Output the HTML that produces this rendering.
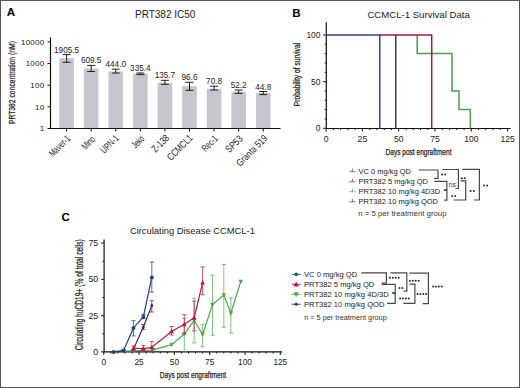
<!DOCTYPE html>
<html><head><meta charset="utf-8"><style>
html,body{margin:0;padding:0;background:#fff;}
body{width:520px;height:388px;overflow:hidden;}
svg{display:block;font-family:"Liberation Sans", sans-serif;}
</style></head><body>
<svg width="520" height="388" viewBox="0 0 520 388">
<rect x="0" y="0" width="520" height="388" fill="#fff"/>
<g>
<rect x="59.30" y="58.20" width="14.6" height="70.30" fill="#c7c6cf"/>
<rect x="83.88" y="68.50" width="14.6" height="60.00" fill="#c7c6cf"/>
<rect x="108.46" y="71.50" width="14.6" height="57.00" fill="#c7c6cf"/>
<rect x="133.04" y="73.50" width="14.6" height="55.00" fill="#c7c6cf"/>
<rect x="157.62" y="82.80" width="14.6" height="45.70" fill="#c7c6cf"/>
<rect x="182.20" y="86.20" width="14.6" height="42.30" fill="#c7c6cf"/>
<rect x="206.78" y="88.80" width="14.6" height="39.70" fill="#c7c6cf"/>
<rect x="231.36" y="91.50" width="14.6" height="37.00" fill="#c7c6cf"/>
<rect x="255.94" y="93.00" width="14.6" height="35.50" fill="#c7c6cf"/>
<path d="M62.60 54.6H70.60M66.60 54.6V62.3M62.60 62.3H70.60" stroke="#222" stroke-width="1" fill="none"/>
<text x="66.60" y="52.60" font-size="8.2" text-anchor="middle" fill="#222">1905.5</text>
<path d="M87.18 65.4H95.18M91.18 65.4V71.5M87.18 71.5H95.18" stroke="#222" stroke-width="1" fill="none"/>
<text x="91.18" y="63.40" font-size="8.2" text-anchor="middle" fill="#222">609.5</text>
<path d="M111.76 69.2H119.76M115.76 69.2V73.0M111.76 73.0H119.76" stroke="#222" stroke-width="1" fill="none"/>
<text x="115.76" y="67.20" font-size="8.2" text-anchor="middle" fill="#222">444.0</text>
<path d="M136.34 73.0H144.34M140.34 73.0V74.6M136.34 74.6H144.34" stroke="#222" stroke-width="1" fill="none"/>
<text x="140.34" y="71.00" font-size="8.2" text-anchor="middle" fill="#222">335.4</text>
<path d="M160.92 80.3H168.92M164.92 80.3V84.3M160.92 84.3H168.92" stroke="#222" stroke-width="1" fill="none"/>
<text x="164.92" y="78.30" font-size="8.2" text-anchor="middle" fill="#222">135.7</text>
<path d="M185.50 82.3H193.50M189.50 82.3V90.3M185.50 90.3H193.50" stroke="#222" stroke-width="1" fill="none"/>
<text x="189.50" y="80.30" font-size="8.2" text-anchor="middle" fill="#222">96.6</text>
<path d="M210.08 86.2H218.08M214.08 86.2V90.0M210.08 90.0H218.08" stroke="#222" stroke-width="1" fill="none"/>
<text x="214.08" y="84.20" font-size="8.2" text-anchor="middle" fill="#222">70.8</text>
<path d="M234.66 90.0H242.66M238.66 90.0V93.4M234.66 93.4H242.66" stroke="#222" stroke-width="1" fill="none"/>
<text x="238.66" y="88.00" font-size="8.2" text-anchor="middle" fill="#222">52.2</text>
<path d="M259.24 91.5H267.24M263.24 91.5V94.6M259.24 94.6H267.24" stroke="#222" stroke-width="1" fill="none"/>
<text x="263.24" y="89.50" font-size="8.2" text-anchor="middle" fill="#222">44.8</text>
<path d="M50.5 37.5V129M50 128.5H280.5" stroke="#111" stroke-width="1.2" fill="none"/>
<path d="M47.5 41.90H50.5" stroke="#111" stroke-width="1"/>
<text x="44.3" y="44.80" font-size="8" text-anchor="end" fill="#222" letter-spacing="0.2">10000</text>
<path d="M47.5 63.55H50.5" stroke="#111" stroke-width="1"/>
<text x="44.3" y="66.45" font-size="8" text-anchor="end" fill="#222" letter-spacing="0.2">1000</text>
<path d="M47.5 85.20H50.5" stroke="#111" stroke-width="1"/>
<text x="44.3" y="88.10" font-size="8" text-anchor="end" fill="#222" letter-spacing="0.2">100</text>
<path d="M47.5 106.85H50.5" stroke="#111" stroke-width="1"/>
<text x="44.3" y="109.75" font-size="8" text-anchor="end" fill="#222" letter-spacing="0.2">10</text>
<path d="M47.5 128.50H50.5" stroke="#111" stroke-width="1"/>
<text x="44.3" y="131.40" font-size="8" text-anchor="end" fill="#222" letter-spacing="0.2">1</text>
<path d="M66.60 128.5V131.5" stroke="#111" stroke-width="1"/>
<text transform="translate(70.98,139.28) rotate(-45)" font-size="10" text-anchor="end" fill="#222" textLength="25.40" lengthAdjust="spacingAndGlyphs">Maver-1</text>
<path d="M91.18 128.5V131.5" stroke="#111" stroke-width="1"/>
<text transform="translate(95.84,139.96) rotate(-45)" font-size="10" text-anchor="end" fill="#222" textLength="14.71" lengthAdjust="spacingAndGlyphs">Mino</text>
<path d="M115.76 128.5V131.5" stroke="#111" stroke-width="1"/>
<text transform="translate(119.58,138.84) rotate(-45)" font-size="10" text-anchor="end" fill="#222" textLength="21.61" lengthAdjust="spacingAndGlyphs">UPN-1</text>
<path d="M140.34 128.5V131.5" stroke="#111" stroke-width="1"/>
<text transform="translate(145.00,139.46) rotate(-45)" font-size="10" text-anchor="end" fill="#222" textLength="13.58" lengthAdjust="spacingAndGlyphs">Jeko</text>
<path d="M164.92 128.5V131.5" stroke="#111" stroke-width="1"/>
<text transform="translate(169.86,138.72) rotate(-45)" font-size="10" text-anchor="end" fill="#222" textLength="20.28" lengthAdjust="spacingAndGlyphs">Z-138</text>
<path d="M189.50 128.5V131.5" stroke="#111" stroke-width="1"/>
<text transform="translate(193.18,138.78) rotate(-45)" font-size="10" text-anchor="end" fill="#222" textLength="31.34" lengthAdjust="spacingAndGlyphs">CCMCL1</text>
<path d="M214.08 128.5V131.5" stroke="#111" stroke-width="1"/>
<text transform="translate(218.46,139.22) rotate(-45)" font-size="10" text-anchor="end" fill="#222" textLength="18.33" lengthAdjust="spacingAndGlyphs">Rec-1</text>
<path d="M238.66 128.5V131.5" stroke="#111" stroke-width="1"/>
<text transform="translate(243.46,139.22) rotate(-45)" font-size="10" text-anchor="end" fill="#222" textLength="19.94" lengthAdjust="spacingAndGlyphs">SP53</text>
<path d="M263.24 128.5V131.5" stroke="#111" stroke-width="1"/>
<text transform="translate(268.18,138.98) rotate(-45)" font-size="10" text-anchor="end" fill="#222" textLength="39.57" lengthAdjust="spacingAndGlyphs">Granta 519</text>
<text transform="translate(15.2,82.6) rotate(-90)" font-size="9.5" text-anchor="middle" fill="#222" stroke="#222" stroke-width="0.25" textLength="83" lengthAdjust="spacingAndGlyphs">PRT382 concentration (nM)</text>
<text x="165.2" y="17.8" font-size="10" text-anchor="middle" fill="#222">PRT382 IC50</text>
<text x="6.8" y="16.3" font-size="11.6" font-weight="bold" fill="#000">A</text>
</g>
<g>
<path d="M326.3 22.3V129M325.8 128.5H510.5" stroke="#111" stroke-width="1.2" fill="none"/>
<path d="M323.2 128.30H326.3" stroke="#111" stroke-width="1"/>
<path d="M324.7 118.97H326.3" stroke="#111" stroke-width="1"/>
<path d="M324.7 109.64H326.3" stroke="#111" stroke-width="1"/>
<path d="M324.7 100.31H326.3" stroke="#111" stroke-width="1"/>
<path d="M324.7 90.98H326.3" stroke="#111" stroke-width="1"/>
<path d="M323.2 81.65H326.3" stroke="#111" stroke-width="1"/>
<path d="M324.7 72.32H326.3" stroke="#111" stroke-width="1"/>
<path d="M324.7 62.99H326.3" stroke="#111" stroke-width="1"/>
<path d="M324.7 53.66H326.3" stroke="#111" stroke-width="1"/>
<path d="M324.7 44.33H326.3" stroke="#111" stroke-width="1"/>
<path d="M323.2 35.00H326.3" stroke="#111" stroke-width="1"/>
<text x="320.4" y="38.00" font-size="8.4" text-anchor="end" fill="#222">100</text>
<text x="320.4" y="84.65" font-size="8.4" text-anchor="end" fill="#222">50</text>
<text x="320.4" y="131.30" font-size="8.4" text-anchor="end" fill="#222">0</text>
<path d="M326.10 128.5V131.5" stroke="#111" stroke-width="1"/>
<path d="M333.36 128.5V130.1" stroke="#111" stroke-width="1"/>
<path d="M340.62 128.5V130.1" stroke="#111" stroke-width="1"/>
<path d="M347.88 128.5V130.1" stroke="#111" stroke-width="1"/>
<path d="M355.14 128.5V130.1" stroke="#111" stroke-width="1"/>
<path d="M362.40 128.5V131.5" stroke="#111" stroke-width="1"/>
<path d="M369.66 128.5V130.1" stroke="#111" stroke-width="1"/>
<path d="M376.92 128.5V130.1" stroke="#111" stroke-width="1"/>
<path d="M384.18 128.5V130.1" stroke="#111" stroke-width="1"/>
<path d="M391.44 128.5V130.1" stroke="#111" stroke-width="1"/>
<path d="M398.70 128.5V131.5" stroke="#111" stroke-width="1"/>
<path d="M405.96 128.5V130.1" stroke="#111" stroke-width="1"/>
<path d="M413.22 128.5V130.1" stroke="#111" stroke-width="1"/>
<path d="M420.48 128.5V130.1" stroke="#111" stroke-width="1"/>
<path d="M427.74 128.5V130.1" stroke="#111" stroke-width="1"/>
<path d="M435.00 128.5V131.5" stroke="#111" stroke-width="1"/>
<path d="M442.26 128.5V130.1" stroke="#111" stroke-width="1"/>
<path d="M449.52 128.5V130.1" stroke="#111" stroke-width="1"/>
<path d="M456.78 128.5V130.1" stroke="#111" stroke-width="1"/>
<path d="M464.04 128.5V130.1" stroke="#111" stroke-width="1"/>
<path d="M471.30 128.5V131.5" stroke="#111" stroke-width="1"/>
<path d="M478.56 128.5V130.1" stroke="#111" stroke-width="1"/>
<path d="M485.82 128.5V130.1" stroke="#111" stroke-width="1"/>
<path d="M493.08 128.5V130.1" stroke="#111" stroke-width="1"/>
<path d="M500.34 128.5V130.1" stroke="#111" stroke-width="1"/>
<path d="M507.60 128.5V131.5" stroke="#111" stroke-width="1"/>
<text x="326.10" y="141.9" font-size="8.6" text-anchor="middle" fill="#222">0</text>
<text x="362.40" y="141.9" font-size="8.6" text-anchor="middle" fill="#222">25</text>
<text x="398.70" y="141.9" font-size="8.6" text-anchor="middle" fill="#222">50</text>
<text x="435.00" y="141.9" font-size="8.6" text-anchor="middle" fill="#222">75</text>
<text x="471.30" y="141.9" font-size="8.6" text-anchor="middle" fill="#222">100</text>
<text x="507.60" y="141.9" font-size="8.6" text-anchor="middle" fill="#222">125</text>
<text x="418.5" y="155.2" font-size="9.3" text-anchor="middle" fill="#222" stroke="#222" stroke-width="0.25" textLength="66" lengthAdjust="spacingAndGlyphs">Days post engraftment</text>
<text transform="translate(300.4,74.5) rotate(-90)" font-size="9.3" text-anchor="middle" fill="#222" stroke="#222" stroke-width="0.25" textLength="63.3" lengthAdjust="spacingAndGlyphs">Probability of survival</text>
<path d="M417.2 35.00V53.6H452V91H459V109.6H470.3V128.5" stroke="#4c9e4c" stroke-width="1.5" fill="none"/>
<path d="M395.8 35.00V128.5" stroke="#4a3358" stroke-width="1.5" fill="none"/>
<path d="M379.8 35.00H431.7V128.5" stroke="#a01a42" stroke-width="1.5" fill="none"/>
<path d="M326.10 35.00H379.8V128.5" stroke="#354678" stroke-width="1.5" fill="none"/>
<text x="418.6" y="17.6" font-size="9.6" text-anchor="middle" fill="#222">CCMCL-1 Survival Data</text>
<text x="292.2" y="16.6" font-size="11.6" font-weight="bold" fill="#000">B</text>
<path d="M349.3 171.7H355.5M352.4 171.7V168.7" stroke="#354678" stroke-width="1.1" stroke-opacity="0.7" fill="none"/>
<text x="358.5" y="173.5" font-size="7.5" fill="#222">VC 0 mg/kg QD</text>
<path d="M349.3 181.7H355.5M352.4 181.7V178.7" stroke="#a01a42" stroke-width="1.1" stroke-opacity="0.7" fill="none"/>
<text x="358.5" y="183.5" font-size="7.5" fill="#222">PRT382 5 mg/kg QD</text>
<path d="M349.3 191.7H355.5M352.4 191.7V188.7" stroke="#4c9e4c" stroke-width="1.1" stroke-opacity="0.7" fill="none"/>
<text x="358.5" y="193.5" font-size="7.5" fill="#222">PRT382 10 mg/kg 4D3D</text>
<path d="M349.3 201.7H355.5M352.4 201.7V198.7" stroke="#4a3358" stroke-width="1.1" stroke-opacity="0.7" fill="none"/>
<text x="358.5" y="203.5" font-size="7.5" fill="#222">PRT382 10 mg/kg QOD</text>
<text x="358.3" y="216.1" font-size="7.8" fill="#333">n = 5 per treatment group</text>
<path d="M418.8 170 L438 170 L438 178.3 L434.2 178.3" stroke="#484848" stroke-width="1.2" fill="none"/>
<path d="M434.2 181.4 L446.9 181.4 L446.9 200.1 L444 200.1" stroke="#484848" stroke-width="1.2" fill="none"/>
<path d="M443.8 190 L446.9 190" stroke="#484848" stroke-width="1.8" fill="none"/>
<path d="M442.2 169.5 L458.4 169.5 L458.4 188.5 L455.5 188.5" stroke="#484848" stroke-width="1.2" fill="none"/>
<path d="M460.6 180.9 L465.7 180.9 L465.7 200 L453.6 200" stroke="#484848" stroke-width="1.2" fill="none"/>
<path d="M462.4 169.3 L479.4 169.3 L479.4 200 L473.9 200" stroke="#484848" stroke-width="1.2" fill="none"/>
<circle cx="442.10" cy="174.50" r="1.0" fill="#2a2a2a"/>
<circle cx="445.20" cy="174.50" r="1.0" fill="#2a2a2a"/>
<text x="448.8" y="187" font-size="6.8" fill="#333">ns</text>
<circle cx="452.20" cy="196.00" r="1.0" fill="#2a2a2a"/>
<circle cx="455.30" cy="196.00" r="1.0" fill="#2a2a2a"/>
<circle cx="461.80" cy="178.30" r="1.0" fill="#2a2a2a"/>
<circle cx="464.90" cy="178.30" r="1.0" fill="#2a2a2a"/>
<circle cx="470.70" cy="191.10" r="1.0" fill="#2a2a2a"/>
<circle cx="473.80" cy="191.10" r="1.0" fill="#2a2a2a"/>
<circle cx="484.00" cy="185.40" r="1.0" fill="#2a2a2a"/>
<circle cx="487.10" cy="185.40" r="1.0" fill="#2a2a2a"/>
</g>
<g>
<path d="M104.1 239.6V352.5M103.6 351.9H282" stroke="#111" stroke-width="1.2" fill="none"/>
<path d="M101.10 351.90H104.1" stroke="#111" stroke-width="1"/>
<path d="M102.50 333.76H104.1" stroke="#111" stroke-width="1"/>
<path d="M101.10 315.62H104.1" stroke="#111" stroke-width="1"/>
<path d="M102.50 297.49H104.1" stroke="#111" stroke-width="1"/>
<path d="M101.10 279.35H104.1" stroke="#111" stroke-width="1"/>
<path d="M102.50 261.21H104.1" stroke="#111" stroke-width="1"/>
<path d="M101.10 243.07H104.1" stroke="#111" stroke-width="1"/>
<text x="98.2" y="355.00" font-size="8.8" text-anchor="end" fill="#222">0</text>
<text x="98.2" y="318.73" font-size="8.8" text-anchor="end" fill="#222">25</text>
<text x="98.2" y="282.45" font-size="8.8" text-anchor="end" fill="#222">50</text>
<text x="98.2" y="246.17" font-size="8.8" text-anchor="end" fill="#222">75</text>
<path d="M103.80 351.9V354.9" stroke="#111" stroke-width="1"/>
<path d="M110.86 351.9V353.5" stroke="#111" stroke-width="1"/>
<path d="M117.92 351.9V353.5" stroke="#111" stroke-width="1"/>
<path d="M124.98 351.9V353.5" stroke="#111" stroke-width="1"/>
<path d="M132.04 351.9V353.5" stroke="#111" stroke-width="1"/>
<path d="M139.10 351.9V354.9" stroke="#111" stroke-width="1"/>
<path d="M146.16 351.9V353.5" stroke="#111" stroke-width="1"/>
<path d="M153.22 351.9V353.5" stroke="#111" stroke-width="1"/>
<path d="M160.28 351.9V353.5" stroke="#111" stroke-width="1"/>
<path d="M167.34 351.9V353.5" stroke="#111" stroke-width="1"/>
<path d="M174.40 351.9V354.9" stroke="#111" stroke-width="1"/>
<path d="M181.46 351.9V353.5" stroke="#111" stroke-width="1"/>
<path d="M188.52 351.9V353.5" stroke="#111" stroke-width="1"/>
<path d="M195.58 351.9V353.5" stroke="#111" stroke-width="1"/>
<path d="M202.64 351.9V353.5" stroke="#111" stroke-width="1"/>
<path d="M209.70 351.9V354.9" stroke="#111" stroke-width="1"/>
<path d="M216.76 351.9V353.5" stroke="#111" stroke-width="1"/>
<path d="M223.82 351.9V353.5" stroke="#111" stroke-width="1"/>
<path d="M230.88 351.9V353.5" stroke="#111" stroke-width="1"/>
<path d="M237.94 351.9V353.5" stroke="#111" stroke-width="1"/>
<path d="M245.00 351.9V354.9" stroke="#111" stroke-width="1"/>
<path d="M252.06 351.9V353.5" stroke="#111" stroke-width="1"/>
<path d="M259.12 351.9V353.5" stroke="#111" stroke-width="1"/>
<path d="M266.18 351.9V353.5" stroke="#111" stroke-width="1"/>
<path d="M273.24 351.9V353.5" stroke="#111" stroke-width="1"/>
<path d="M280.30 351.9V354.9" stroke="#111" stroke-width="1"/>
<text x="103.80" y="365" font-size="8.3" text-anchor="middle" fill="#222">0</text>
<text x="139.10" y="365" font-size="8.3" text-anchor="middle" fill="#222">25</text>
<text x="174.40" y="365" font-size="8.3" text-anchor="middle" fill="#222">50</text>
<text x="209.70" y="365" font-size="8.3" text-anchor="middle" fill="#222">75</text>
<text x="245.00" y="365" font-size="8.3" text-anchor="middle" fill="#222">100</text>
<text x="280.30" y="365" font-size="8.3" text-anchor="middle" fill="#222">125</text>
<text x="193" y="378.3" font-size="9.5" text-anchor="middle" fill="#222" stroke="#222" stroke-width="0.25" textLength="66.3" lengthAdjust="spacingAndGlyphs">Days post engraftment</text>
<text transform="translate(82.6,294.8) rotate(-90)" font-size="10" text-anchor="middle" fill="#222" stroke="#222" stroke-width="0.25" textLength="111" lengthAdjust="spacingAndGlyphs">Circulating huCD19+ (% of total cells)</text>
<text x="192.4" y="234.4" font-size="9.4" text-anchor="middle" fill="#222">Circulating Disease CCMCL-1</text>
<text x="61.4" y="221.4" font-size="11.6" font-weight="bold" fill="#000">C</text>
<polyline points="123.57,351.03 133.45,350.74 143.34,350.45 153.22,349.87 171.58,344.64 184.28,334.05 194.17,320.56 202.64,334.49 212.52,304.60 223.82,295.02 230.88,313.16 240.76,281.53" stroke="#4fa84f" stroke-width="1.2" fill="none"/>
<path d="M182.08 318.53H186.48M184.28 318.53V351.90M182.08 351.90H186.48" stroke="#4fa84f" stroke-width="0.9" stroke-opacity="0.8" fill="none"/>
<path d="M191.97 298.21H196.37M194.17 298.21V342.90M191.97 342.90H196.37" stroke="#4fa84f" stroke-width="0.9" stroke-opacity="0.8" fill="none"/>
<path d="M200.44 324.33H204.84M202.64 324.33V346.82M200.44 346.82H204.84" stroke="#4fa84f" stroke-width="0.9" stroke-opacity="0.8" fill="none"/>
<path d="M210.32 275.29H214.72M212.52 275.29V335.21M210.32 335.21H214.72" stroke="#4fa84f" stroke-width="0.9" stroke-opacity="0.8" fill="none"/>
<path d="M221.62 264.55H226.02M223.82 264.55V327.23M221.62 327.23H226.02" stroke="#4fa84f" stroke-width="0.9" stroke-opacity="0.8" fill="none"/>
<path d="M228.68 297.78H233.08M230.88 297.78V333.04M228.68 333.04H233.08" stroke="#4fa84f" stroke-width="0.9" stroke-opacity="0.8" fill="none"/>
<path d="M123.57 353.63L125.87 349.19H121.27Z" fill="#4fa84f"/>
<path d="M133.45 353.34L135.75 348.90H131.15Z" fill="#4fa84f"/>
<path d="M143.34 353.05L145.64 348.61H141.04Z" fill="#4fa84f"/>
<path d="M153.22 352.47L155.52 348.03H150.92Z" fill="#4fa84f"/>
<path d="M171.58 347.25L173.88 342.81H169.28Z" fill="#4fa84f"/>
<path d="M184.28 336.65L186.58 332.21H181.98Z" fill="#4fa84f"/>
<path d="M194.17 323.16L196.47 318.72H191.87Z" fill="#4fa84f"/>
<path d="M202.64 337.09L204.94 332.65H200.34Z" fill="#4fa84f"/>
<path d="M212.52 307.20L214.82 302.76H210.22Z" fill="#4fa84f"/>
<path d="M223.82 297.62L226.12 293.18H221.52Z" fill="#4fa84f"/>
<path d="M230.88 315.76L233.18 311.32H228.58Z" fill="#4fa84f"/>
<path d="M240.76 284.13L243.06 279.69H238.46Z" fill="#4fa84f"/>
<polyline points="133.45,349.29 143.34,327.09 151.81,305.61" stroke="#4b1f63" stroke-width="1.2" fill="none"/>
<path d="M141.14 324.48H145.54M143.34 324.48V329.41M141.14 329.41H145.54" stroke="#4b1f63" stroke-width="0.9" stroke-opacity="0.8" fill="none"/>
<path d="M149.61 300.68H154.01M151.81 300.68V312.00M149.61 312.00H154.01" stroke="#4b1f63" stroke-width="0.9" stroke-opacity="0.8" fill="none"/>
<path d="M133.45 347.19L135.13 349.29L133.45 351.39L131.77 349.29Z" fill="#4b1f63"/>
<path d="M143.34 324.99L145.02 327.09L143.34 329.19L141.66 327.09Z" fill="#4b1f63"/>
<path d="M151.81 303.51L153.49 305.61L151.81 307.71L150.13 305.61Z" fill="#4b1f63"/>
<polyline points="133.45,348.27 143.34,348.71 151.81,347.26 171.58,331.44 184.28,324.33 194.17,317.66 202.64,282.69" stroke="#b5173d" stroke-width="1.2" fill="none"/>
<path d="M131.25 346.10H135.65M133.45 346.10V350.45M131.25 350.45H135.65" stroke="#b5173d" stroke-width="0.9" stroke-opacity="0.8" fill="none"/>
<path d="M141.14 345.37H145.54M143.34 345.37V351.46M141.14 351.46H145.54" stroke="#b5173d" stroke-width="0.9" stroke-opacity="0.8" fill="none"/>
<path d="M149.61 341.45H154.01M151.81 341.45V351.90M149.61 351.90H154.01" stroke="#b5173d" stroke-width="0.9" stroke-opacity="0.8" fill="none"/>
<path d="M169.38 326.51H173.78M171.58 326.51V335.07M169.38 335.07H173.78" stroke="#b5173d" stroke-width="0.9" stroke-opacity="0.8" fill="none"/>
<path d="M182.08 314.61H186.48M184.28 314.61V334.05M182.08 334.05H186.48" stroke="#b5173d" stroke-width="0.9" stroke-opacity="0.8" fill="none"/>
<path d="M191.97 301.11H196.37M194.17 301.11V330.86M191.97 330.86H196.37" stroke="#b5173d" stroke-width="0.9" stroke-opacity="0.8" fill="none"/>
<path d="M200.44 266.87H204.84M202.64 266.87V294.73M200.44 294.73H204.84" stroke="#b5173d" stroke-width="0.9" stroke-opacity="0.8" fill="none"/>
<path d="M133.45 345.67L135.75 350.11H131.15Z" fill="#b5173d"/>
<path d="M143.34 346.11L145.64 350.55H141.04Z" fill="#b5173d"/>
<path d="M151.81 344.66L154.11 349.10H149.51Z" fill="#b5173d"/>
<path d="M171.58 328.84L173.88 333.28H169.28Z" fill="#b5173d"/>
<path d="M184.28 321.73L186.58 326.17H181.98Z" fill="#b5173d"/>
<path d="M194.17 315.06L196.47 319.50H191.87Z" fill="#b5173d"/>
<path d="M202.64 280.09L204.94 284.53H200.34Z" fill="#b5173d"/>
<polyline points="113.68,351.90 123.57,350.45 133.45,327.96 143.34,316.93 151.81,277.46" stroke="#1f4478" stroke-width="1.2" fill="none"/>
<path d="M131.25 320.70H135.65M133.45 320.70V335.94M131.25 335.94H135.65" stroke="#1f4478" stroke-width="0.9" stroke-opacity="0.8" fill="none"/>
<path d="M141.14 314.61H145.54M143.34 314.61V318.67M141.14 318.67H145.54" stroke="#1f4478" stroke-width="0.9" stroke-opacity="0.8" fill="none"/>
<path d="M149.61 261.94H154.01M151.81 261.94V292.12M149.61 292.12H154.01" stroke="#1f4478" stroke-width="0.9" stroke-opacity="0.8" fill="none"/>
<circle cx="113.68" cy="351.90" r="2.0" fill="#1f4478"/>
<circle cx="123.57" cy="350.45" r="2.0" fill="#1f4478"/>
<circle cx="133.45" cy="327.96" r="2.0" fill="#1f4478"/>
<circle cx="143.34" cy="316.93" r="2.0" fill="#1f4478"/>
<circle cx="151.81" cy="277.46" r="2.0" fill="#1f4478"/>
<path d="M291.9 274.4H300.6" stroke="#1b5a78" stroke-width="1" fill="none"/>
<circle cx="296.20" cy="274.40" r="1.8" fill="#1b5a78"/>
<text x="304" y="277.0" font-size="7.6" fill="#222">VC 0 mg/kg QD</text>
<path d="M291.9 284.3H300.6" stroke="#b5173d" stroke-width="1" fill="none"/>
<path d="M296.20 281.45L298.80 286.43H293.60Z" fill="#b5173d"/>
<text x="304" y="286.9" font-size="7.6" fill="#222">PRT382 5 mg/kg QD</text>
<path d="M291.9 294.3H300.6" stroke="#4fa84f" stroke-width="1" fill="none"/>
<path d="M296.20 297.20L298.80 292.22H293.60Z" fill="#4fa84f"/>
<text x="304" y="296.9" font-size="7.6" fill="#222">PRT382 10 mg/kg 4D/3D</text>
<path d="M291.9 304.2H300.6" stroke="#4b1f63" stroke-width="1" fill="none"/>
<path d="M296.20 302.25L297.80 304.25L296.20 306.25L294.60 304.25Z" fill="#4b1f63"/>
<text x="304" y="306.9" font-size="7.6" fill="#222">PRT382 10 mg/kg QOD</text>
<text x="304.2" y="319.6" font-size="7.3" fill="#333">n = 5 per treatment group</text>
<path d="M361.4 272.9 L386.4 272.9 L386.4 283.2 L381.6 283.2" stroke="#484848" stroke-width="1.2" fill="none"/>
<path d="M381.6 284.4 L395.2 284.4 L395.2 303.4 L387 303.4" stroke="#484848" stroke-width="1.2" fill="none"/>
<path d="M392.2 293 L395.2 293" stroke="#484848" stroke-width="2" fill="none"/>
<path d="M390.4 272.9 L406.8 272.9 L406.8 291.2 L403.7 291.2" stroke="#484848" stroke-width="1.2" fill="none"/>
<path d="M409.5 284.2 L414.9 284.2 L414.9 303.4 L403.3 303.4" stroke="#484848" stroke-width="1.2" fill="none"/>
<path d="M409.5 273.1 L428.4 273.1 L428.4 303.6 L422.6 303.6" stroke="#484848" stroke-width="1.2" fill="none"/>
<circle cx="389.90" cy="277.80" r="1.0" fill="#2a2a2a"/>
<circle cx="392.80" cy="277.80" r="1.0" fill="#2a2a2a"/>
<circle cx="395.70" cy="277.80" r="1.0" fill="#2a2a2a"/>
<circle cx="398.60" cy="277.80" r="1.0" fill="#2a2a2a"/>
<circle cx="399.50" cy="288.00" r="1.0" fill="#2a2a2a"/>
<circle cx="402.40" cy="288.00" r="1.0" fill="#2a2a2a"/>
<circle cx="400.10" cy="298.60" r="1.0" fill="#2a2a2a"/>
<circle cx="403.00" cy="298.60" r="1.0" fill="#2a2a2a"/>
<circle cx="405.90" cy="298.60" r="1.0" fill="#2a2a2a"/>
<circle cx="408.80" cy="298.60" r="1.0" fill="#2a2a2a"/>
<circle cx="409.90" cy="280.70" r="1.0" fill="#2a2a2a"/>
<circle cx="412.80" cy="280.70" r="1.0" fill="#2a2a2a"/>
<circle cx="415.70" cy="280.70" r="1.0" fill="#2a2a2a"/>
<circle cx="418.60" cy="280.70" r="1.0" fill="#2a2a2a"/>
<circle cx="417.50" cy="293.90" r="1.0" fill="#2a2a2a"/>
<circle cx="420.40" cy="293.90" r="1.0" fill="#2a2a2a"/>
<circle cx="423.30" cy="293.90" r="1.0" fill="#2a2a2a"/>
<circle cx="426.20" cy="293.90" r="1.0" fill="#2a2a2a"/>
<circle cx="433.00" cy="286.50" r="1.0" fill="#2a2a2a"/>
<circle cx="435.90" cy="286.50" r="1.0" fill="#2a2a2a"/>
<circle cx="438.80" cy="286.50" r="1.0" fill="#2a2a2a"/>
<circle cx="441.70" cy="286.50" r="1.0" fill="#2a2a2a"/>
</g>
<rect x="0.5" y="0.5" width="519" height="387" fill="none" stroke="#555" stroke-width="1"/>
</svg>
</body></html>
